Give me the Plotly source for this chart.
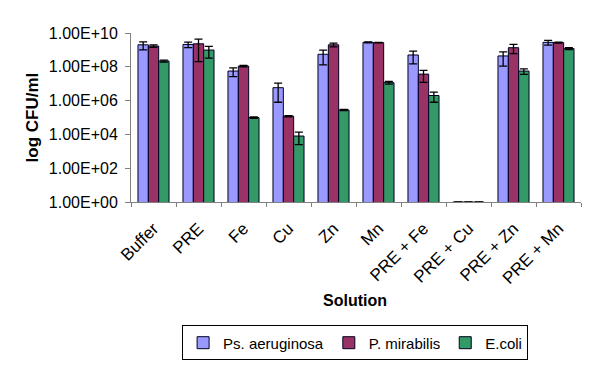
import plotly.graph_objects as go

categories = ["Buffer", "PRE", "Fe", "Cu", "Zn", "Mn", "PRE + Fe", "PRE + Cu", "PRE + Zn", "PRE + Mn"]

ps_values = [2.0e9, 2.1e9, 5.6e7, 5.8e6, 5.5e8, 2.8e9, 5.0e8, 1, 4.4e8, 2.8e9]
ps_errors = [1.0e9, 0.75e9, 3.0e7, 5.0e6, 4.2e8, 2.0e8, 3.5e8, 0, 3.3e8, 9.0e8]

pm_values = [1.7e9, 2.3e9, 1.1e8, 1.2e5, 2.0e9, 2.7e9, 3.7e7, 1, 1.35e9, 2.7e9]
pm_errors = [3.0e8, 2.1e9, 1.0e7, 1.0e4, 5.0e8, 1.0e8, 2.5e7, 0, 7.5e8, 2.0e8]

ec_values = [2.2e8, 9.8e8, 1.0e5, 8.0e3, 2.8e5, 1.15e7, 2.0e6, 1, 5.6e7, 1.2e9]
ec_errors = [3.0e7, 6.5e8, 1.0e4, 5.5e3, 2.0e4, 2.0e6, 1.2e6, 0, 2.0e7, 1.5e8]

series_names = ["Ps. aeruginosa", "P. mirabilis", "E.coli"]
series_colors = ["#9999FF", "#993366", "#339966"]

y_tickvals = [1, 1e2, 1e4, 1e6, 1e8, 1e10]
y_ticktext = ["1.00E+00", "1.00E+02", "1.00E+04", "1.00E+06", "1.00E+08", "1.00E+10"]

FONT = "Liberation Sans, Arial, sans-serif"

fig = go.Figure()
for name, color, vals, errs in zip(series_names, series_colors,
                                   [ps_values, pm_values, ec_values],
                                   [ps_errors, pm_errors, ec_errors]):
    fig.add_trace(go.Bar(
        x=categories, y=vals, name=name,
        marker=dict(color=color, line=dict(color="#000022", width=1)),
        error_y=dict(type="data", array=errs, visible=True,
                     color="#000000", thickness=1.3, width=4),
    ))

# page body has an 8px default margin, so the figure is drawn 8px smaller
fig.update_layout(
    width=592, height=361,
    margin=dict(l=123, r=19, t=25, b=167, autoexpand=False),
    paper_bgcolor="white", plot_bgcolor="white",
    barmode="group", bargap=0.31, bargroupgap=0,
    font=dict(family=FONT, size=16, color="black"),
    showlegend=True,
    legend=dict(orientation="h", x=0.498, xanchor="center", y=-0.834, yanchor="middle",
                bordercolor="black", borderwidth=1, font=dict(size=15),
                itemwidth=30, tracegroupgap=0),
    annotations=[
        dict(text="<b>log CFU/ml</b>", x=-0.218, y=0.5, xref="paper", yref="paper",
             textangle=-90, showarrow=False, font=dict(size=17), xanchor="center", yanchor="middle"),
        dict(text="<b>Solution</b>", x=0.498, y=-0.58, xref="paper", yref="paper",
             showarrow=False, font=dict(size=16), xanchor="center", yanchor="middle"),
    ],
)
fig.update_yaxes(type="log", range=[0, 10], tickvals=y_tickvals, ticktext=y_ticktext,
                 ticks="outside", ticklen=5, tickcolor="#808080", showline=True,
                 linecolor="#808080", linewidth=1, showgrid=False, zeroline=False,
                 tickfont=dict(size=16), ticklabelstandoff=4)
fig.update_xaxes(tickangle=-45, ticks="outside", tickson="boundaries", ticklen=4,
                 tickcolor="#808080", showline=True, linecolor="#808080", linewidth=1,
                 showgrid=False, tickfont=dict(size=17), ticklabelstandoff=9)

fig.write_html("out.html")
